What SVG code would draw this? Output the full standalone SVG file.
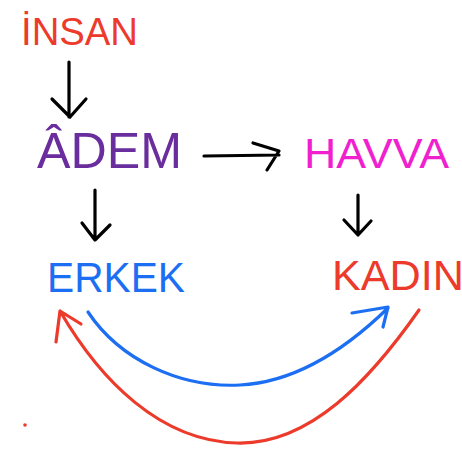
<svg xmlns="http://www.w3.org/2000/svg" width="462" height="451" viewBox="0 0 462 451">
<style>
text{font-family:"Liberation Sans",Arial,sans-serif;}
.ln{fill:none;stroke-linecap:round;stroke-linejoin:round;}
.k{stroke:#000;stroke-width:3.2;}
</style>
<rect width="462" height="451" fill="#fff"/>
<g id="insan"><text x="21" y="45" font-size="38" fill="#ec3a2b" textLength="117" lengthAdjust="spacingAndGlyphs">İNSAN</text></g>
<g id="adem"><text x="37" y="168" font-size="50" fill="#6a2d9d" textLength="145" lengthAdjust="spacingAndGlyphs">ÂDEM</text></g>
<g id="havva"><text x="304" y="168" font-size="42" fill="#f020cf" textLength="145" lengthAdjust="spacingAndGlyphs">HAVVA</text></g>
<g id="erkek"><text x="47" y="292" font-size="42" fill="#1c6ef2" textLength="138" lengthAdjust="spacingAndGlyphs">ERKEK</text></g>
<g id="kadin"><text x="332" y="290" font-size="42" fill="#ec3a2b" textLength="132" lengthAdjust="spacingAndGlyphs">KADIN</text></g>
<g id="connectors">
<path class="ln k" d="M69 62 L69 117 M52 99 L70 117 L86 99"/>
<path class="ln k" d="M95 190 L95 240 M82 223 L95 240 L110 225"/>
<path class="ln k" d="M204 156 L279 155 M253 143 L279 151 L267 170"/>
<path class="ln k" d="M358 195 L358 235 M344 220 L358 235 L371 221"/>
<path class="ln" stroke="#1c6ef2" stroke-width="3.2" d="M88 312 C120 360 180 388 240 385 C300 382 350 345 388 308 M352 313 L388 307 L383 327"/>
<path class="ln" stroke="#ec3a2b" stroke-width="3.2" d="M419 310 C370 380 310 445 237 443 C160 441 100 380 60 311 M56 342 L60 311 L81 324"/>
<circle cx="25" cy="425" r="1.8" fill="#ec3a2b"/>
</g>
</svg>
